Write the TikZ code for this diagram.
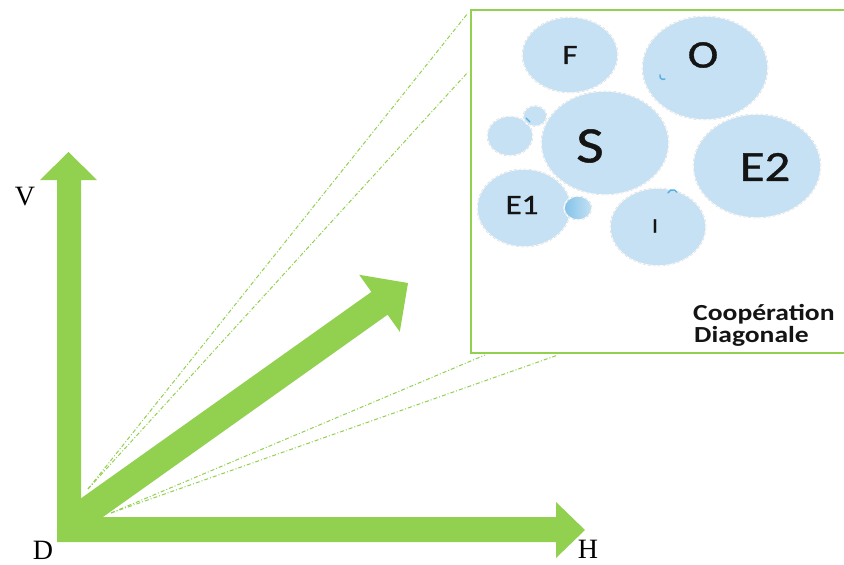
\documentclass[tikz,border=0pt]{standalone}
\usepackage{fontspec}
\setmainfont{Liberation Serif}
\newfontfamily\carl[FakeStretch=1.18,FakeBold=0.9]{Carlito}
\newfontfamily\carlb[FakeStretch=1.2]{Carlito Bold}
\usetikzlibrary{shapes.geometric}
\definecolor{grn}{RGB}{146,208,80}
\definecolor{bub}{RGB}{197,225,243}
\definecolor{bubdark}{RGB}{86,174,228}
\definecolor{ink}{RGB}{20,20,20}
\begin{document}
\begin{tikzpicture}[x=1pt,y=-1pt,
  bubble/.style={ellipse, fill=bub, draw=white, line width=1.4pt, inner sep=0pt,
    postaction={draw=black!18, densely dashed, line width=0.35pt}},
  blab/.style={inner sep=0pt, text=ink},
  axlab/.style={inner sep=0pt, text=black, font=\fontsize{28}{30}\selectfont},
  ddline/.style={draw=grn, line width=1pt, dash pattern=on 4pt off 2pt on 1pt off 2pt},
  bluemark/.style={draw=bubdark, line width=1.4pt, line cap=round}]
\useasboundingbox (0,0) rectangle (844,565);

% dash-dot projection lines
\coordinate (u0) at (88,489);
\coordinate (l0) at (111,513);
\coordinate (bTL) at (468,13);
\coordinate (bL2) at (468,72);
\coordinate (bB1) at (485,355);
\coordinate (bB2) at (558,355);
\draw[ddline] (u0) -- (bTL);
\draw[ddline] (u0) -- (bL2);
\draw[ddline] (l0) -- (bB1);
\draw[ddline] (l0) -- (bB2);

% axes arrows
\fill[grn] (57,542) -- (57,180) -- (40,180) -- (68.5,152) -- (97,180) -- (81,180)
  -- (81,517) -- (556,517) -- (556,502) -- (585,530) -- (556,558) -- (556,542) -- cycle;
\fill[grn] (60.9,512.6) -- (371.4,291.9) -- (359.2,274.8) -- (408,283)
  -- (399.8,331.8) -- (387.6,314.7) -- (77.1,535.4) -- cycle;

% box
\draw[grn, line width=2.4pt] (850,10) -- (471,10) -- (471,353) -- (850,353);

% bubbles
\node[bubble, minimum width=96pt, minimum height=76pt] (F) at (570,55) {};
\node[bubble, minimum width=126pt, minimum height=104pt] (O) at (705,68) {};
\node[bubble, minimum width=128pt, minimum height=104pt] (S) at (605,143) {};
\node[bubble, minimum width=128pt, minimum height=104pt] (E2) at (757,166) {};
\node[bubble, minimum width=94pt, minimum height=78pt] (E1) at (524,208) {};
\node[bubble, minimum width=96pt, minimum height=78pt] (I) at (658,227) {};
\node[bubble, minimum width=46pt, minimum height=40pt] (sm) at (510,136) {};
\node[bubble, minimum width=24pt, minimum height=21pt] (t1) at (535,116) {};
\node[bubble, minimum width=28pt, minimum height=24pt, shading=axis,
  left color=bubdark!60!bub, right color=bub, shading angle=90] (t2) at (578,208) {};

% small marks
\draw[bluemark] (665,79) arc (60:200:3.5);
\draw[bluemark] (668,193) arc (200:330:5);
\draw[bluemark] (526,118) -- (530,122);

% bubble labels
\node[blab, font=\carl\fontsize{28}{30}\selectfont] (tF) at (570,55) {F};
\node[blab, font=\carl\fontsize{39}{41}\selectfont] (tO) at (703,55) {O};
\node[blab, font=\carl\fontsize{51}{53}\selectfont] (tS) at (590,146) {S};
\node[blab, font=\carl\fontsize{43}{45}\selectfont] (tE2) at (765,167) {E2};
\node[blab, font=\carl\fontsize{28}{30}\selectfont] (tE1) at (522,205) {E1};
\node[blab, font=\carl\fontsize{21}{23}\selectfont] (tI) at (655,226) {I};

\node[blab, anchor=base west, font=\carlb\fontsize{23}{25}\selectfont] (c1) at (693,320) {Coopération};
\node[blab, anchor=base west, font=\carlb\fontsize{23}{25}\selectfont] (c2) at (694,342) {Diagonale};

% axis labels
\node[axlab] (V) at (25,197) {V};
\node[axlab] (D) at (43,550) {D};
\node[axlab] (H) at (588,549) {H};
\end{tikzpicture}
\end{document}
